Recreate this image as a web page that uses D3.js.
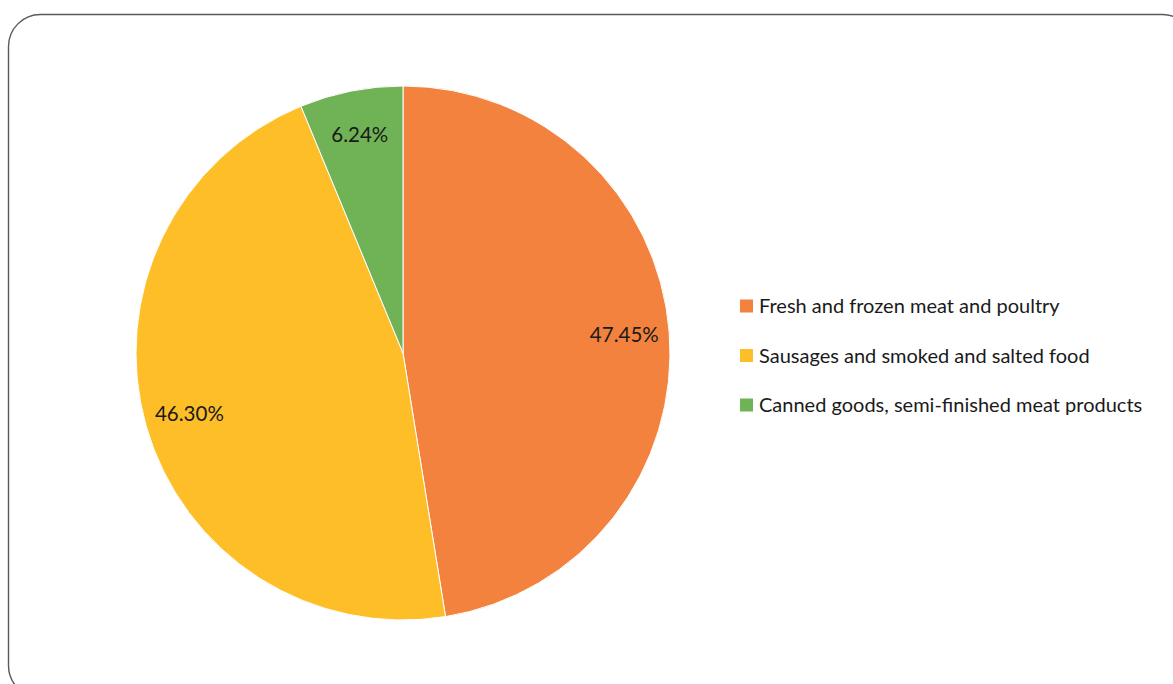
<!DOCTYPE html>
<html>
<head>
<meta charset="utf-8">
<script src="https://cdn.jsdelivr.net/npm/d3@7"></script>
<style>
  html, body { margin: 0; padding: 0; background: #fff; overflow: hidden; }
  text { font-family: Lato, "Open Sans", sans-serif; fill: #1a1a1a; }
</style>
</head>
<body>
<script>
// chart data
var categories = ["Fresh and frozen meat and poultry", "Sausages and smoked and salted food", "Canned goods, semi-finished meat products"];
var shares = [47.45, 46.30, 6.24];
var labels = ["47.45%", "46.30%", "6.24%"];
var colours = ["#F2823D", "#FDBE28", "#6FB356"];

var W = 1173, H = 684;

var svg = d3.select("body").append("svg")
  .attr("width", W)
  .attr("height", H);

// rounded frame, runs off the right and bottom edges
svg.append("rect")
  .attr("x", 8.5).attr("y", 14.5)
  .attr("width", 1186).attr("height", 683)
  .attr("rx", 32).attr("ry", 32)
  .attr("fill", "none")
  .attr("stroke", "#5a5a5a")
  .attr("stroke-width", 1.4);

var cx = 403, cy = 353, R = 267;

var data = categories.map(function(c, i) {
  return {name: c, value: shares[i], label: labels[i], color: colours[i]};
});

var pie = d3.pie().sort(null).value(function(d) { return d.value; });
var arc = d3.arc().innerRadius(0).outerRadius(R);
var labelArc = d3.arc().innerRadius(222).outerRadius(222);

var g = svg.append("g").attr("transform", "translate(" + cx + "," + cy + ")");

var slices = g.selectAll(".slice")
  .data(pie(data))
  .enter().append("g")
  .attr("class", "slice");

slices.append("path")
  .attr("d", arc)
  .attr("fill", function(d) { return d.data.color; })
  .attr("stroke", "#fff")
  .attr("stroke-width", 1);

slices.append("text")
  .attr("transform", function(d) { return "translate(" + labelArc.centroid(d) + ")"; })
  .attr("text-anchor", "middle")
  .attr("dy", "0.35em")
  .style("font-size", "20.5px")
  .text(function(d) { return d.data.label; });

// legend
var legend = svg.append("g").attr("transform", "translate(740,306)");
var rowY = d3.scalePoint().domain(categories).range([0, 99]);

var rows = legend.selectAll(".row")
  .data(data)
  .enter().append("g")
  .attr("class", "row")
  .attr("transform", function(d) { return "translate(0," + rowY(d.name) + ")"; });

rows.append("rect")
  .attr("x", 0).attr("y", -6.5)
  .attr("width", 13).attr("height", 13)
  .attr("fill", function(d) { return d.color; });

rows.append("text")
  .attr("x", 19)
  .attr("dy", "0.35em")
  .style("font-size", "20px")
  .text(function(d) { return d.name; });
</script>
</body>
</html>
